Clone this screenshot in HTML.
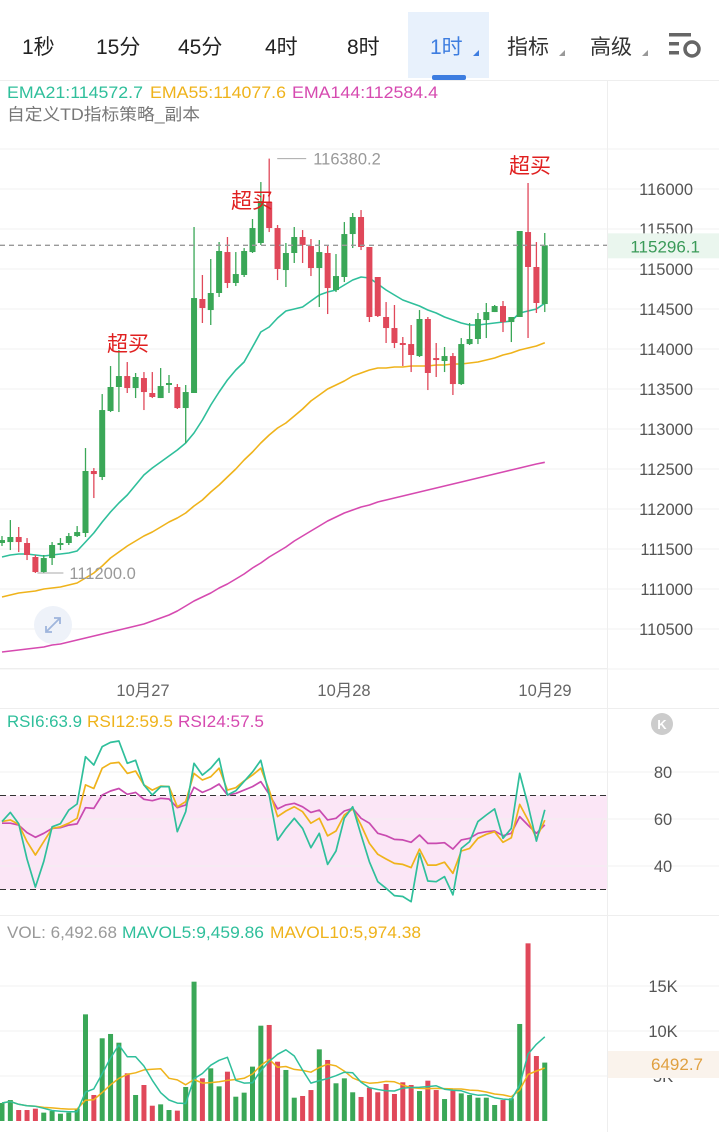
<!DOCTYPE html>
<html><head><meta charset="utf-8">
<style>
html,body{margin:0;padding:0;background:#fff;}
body{width:719px;height:1132px;overflow:hidden;font-family:"Liberation Sans","Noto Sans CJK SC",sans-serif;}
svg{display:block;}
text{font-family:"Liberation Sans","Noto Sans CJK SC",sans-serif;}
</style></head>
<body>
<svg id="chart" width="719" height="1132" viewBox="0 0 719 1132" xmlns="http://www.w3.org/2000/svg">
  <g font-size="21" fill="#222">
    <rect x="408" y="12" width="81" height="66" fill="#e8f1fc"/>
    <rect x="432" y="75" width="34" height="5" rx="2" fill="#3d7de0"/>
    <text x="22" y="54">1秒</text>
    <text x="96" y="54">15分</text>
    <text x="178" y="54">45分</text>
    <text x="265" y="54">4时</text>
    <text x="347" y="54">8时</text>
    <text x="430" y="54" fill="#3d7de0">1时</text>
    <path d="M473 56 L479 50 L479 56 Z" fill="#3d7de0"/>
    <text x="507" y="54" fill="#333">指标</text>
    <path d="M559 56 L565 50 L565 56 Z" fill="#999"/>
    <text x="590" y="54" fill="#333">高级</text>
    <path d="M642 56 L648 50 L648 56 Z" fill="#999"/>
    <g fill="#666">
      <rect x="669" y="33" width="22" height="3.5"/>
      <rect x="669" y="42" width="10" height="3.5"/>
      <rect x="669" y="51" width="10" height="3.5"/>
      <circle cx="692" cy="49" r="7" fill="none" stroke="#666" stroke-width="3.5"/>
    </g>
  </g>
  <line x1="0" y1="80.5" x2="719" y2="80.5" stroke="#eee"/>
  <line x1="607.5" y1="80" x2="607.5" y2="1132" stroke="#eee"/>

  <g font-size="16.5">
    <text x="7" y="98" fill="#2fbf9b" textLength="136" lengthAdjust="spacingAndGlyphs">EMA21:114572.7</text>
    <text x="150" y="98" fill="#efb31b" textLength="136" lengthAdjust="spacingAndGlyphs">EMA55:114077.6</text>
    <text x="292" y="98" fill="#d64ab0" textLength="146" lengthAdjust="spacingAndGlyphs">EMA144:112584.4</text>
    <text x="7" y="120" fill="#777" textLength="193" lengthAdjust="spacingAndGlyphs">自定义TD指标策略_副本</text>
  </g>

  <g id="mainGrid"></g>
  <g id="mainAxis" font-size="16.5" fill="#555"></g>
  <g id="emaLines"></g>
  <g id="candles"></g>
  <g id="annot"></g>

  <line x1="0" y1="668.5" x2="607" y2="668.5" stroke="#eee"/>
  <g font-size="16.5" fill="#666">
    <text x="143" y="696" text-anchor="middle">10月27</text>
    <text x="344" y="696" text-anchor="middle">10月28</text>
    <text x="545" y="696" text-anchor="middle">10月29</text>
  </g>
  <line x1="0" y1="708.5" x2="719" y2="708.5" stroke="#eee"/>

  <g id="rsiPanel"></g>
  <g font-size="16.5">
    <text x="7" y="727" fill="#2fbf9b" textLength="75" lengthAdjust="spacingAndGlyphs">RSI6:63.9</text>
    <text x="87" y="727" fill="#efb31b" textLength="86" lengthAdjust="spacingAndGlyphs">RSI12:59.5</text>
    <text x="178" y="727" fill="#d64ab0" textLength="86" lengthAdjust="spacingAndGlyphs">RSI24:57.5</text>
  </g>
  <g>
    <circle cx="662" cy="724" r="11" fill="#ccc"/>
    <text x="662" y="729" font-size="13" fill="#fff" text-anchor="middle" font-weight="bold">K</text>
  </g>
  <line x1="0" y1="915.5" x2="719" y2="915.5" stroke="#eee"/>

  <g id="volPanel"></g>
  <g font-size="16.5">
    <text x="7" y="938" fill="#999" textLength="110" lengthAdjust="spacingAndGlyphs">VOL: 6,492.68</text>
    <text x="122" y="938" fill="#2fbf9b" textLength="142" lengthAdjust="spacingAndGlyphs">MAVOL5:9,459.86</text>
    <text x="270" y="938" fill="#efb31b" textLength="151" lengthAdjust="spacingAndGlyphs">MAVOL10:5,974.38</text>
  </g>
</svg>
<script>
const opens  = [111575,111587,111650,111575,111400,111212,111387,111550,111575,111662,111700,112475,112400,113225,113525,113662,113512,113637,113450,113387,113550,113525,113262,113450,114625,114487,114700,115212,114825,114925,115212,115325,115837,115512,114987,115200,115400,115287,115012,115200,114737,114900,115437,115650,115275,114900,114400,114262,114075,114062,113912,114375,113887,113850,113912,113562,114062,114125,114362,114462,114537,114337,114400,115462,115025,114562];
const highs  = [111662,111862,111775,111637,111425,111425,111587,111637,111700,111787,112762,112512,113437,113787,113987,113837,113700,113712,113712,113762,113675,113562,113550,115525,114925,115125,115337,115400,115212,115262,115625,116087,116380,115550,115325,115525,115487,115375,115362,115300,115187,115587,115700,115737,115275,114900,114587,114550,114150,114300,114487,114400,114075,114025,113950,114137,114325,114450,114575,114550,114600,114400,115475,116075,115337,115450];
const lows   = [111537,111487,111462,111362,111200,111200,111300,111487,111550,111650,111650,112137,112362,113212,113212,113450,113387,113237,113387,113387,113450,113250,112825,113450,114325,114300,114650,114762,114787,114900,115200,115300,115462,114862,114775,115075,115075,114912,114525,114437,114712,114837,115262,115237,114337,114400,114075,114012,113787,113712,113900,113487,113650,113712,113425,113550,114050,114062,114137,114462,114212,114087,114400,114137,114450,114462];
const closes = [111612,111650,111587,111425,111212,111387,111550,111575,111662,111712,112475,112437,113237,113525,113662,113512,113650,113462,113400,113537,113575,113262,113462,114637,114512,114700,115225,114825,114937,115225,115512,115850,115512,115000,115200,115400,115300,115012,115212,114762,114912,115437,115650,115275,114400,114412,114262,114075,114050,113925,114375,113700,113862,113912,113562,114062,114125,114375,114462,114537,114337,114400,115475,115025,114575,115296];
const ema21  = [111400,111425,111437,111437,111425,111412,111425,111437,111450,111475,111587,111700,111837,111962,112075,112175,112300,112425,112512,112587,112662,112737,112825,112950,113112,113300,113462,113612,113737,113837,114025,114212,114275,114387,114475,114500,114525,114600,114675,114712,114737,114800,114862,114900,114887,114812,114737,114675,114612,114575,114537,114487,114450,114400,114362,114325,114300,114300,114312,114325,114337,114350,114450,114475,114500,114573];
const ema55  = [110900,110925,110950,110962,110975,111000,111012,111025,111050,111075,111137,111200,111287,111387,111462,111537,111600,111662,111712,111775,111837,111887,111950,112037,112112,112212,112300,112400,112500,112612,112712,112825,112925,113012,113075,113162,113250,113350,113425,113500,113550,113600,113662,113700,113737,113762,113762,113775,113775,113787,113787,113787,113800,113800,113812,113812,113825,113837,113862,113887,113925,113950,113987,114012,114037,114078];
const ema144 = [110212,110225,110237,110250,110262,110275,110300,110312,110337,110362,110387,110412,110437,110462,110487,110512,110537,110562,110600,110637,110675,110725,110787,110850,110900,110950,111012,111062,111125,111187,111262,111325,111400,111462,111525,111600,111662,111725,111787,111850,111900,111950,111987,112025,112050,112087,112112,112137,112162,112187,112212,112237,112262,112287,112312,112337,112362,112387,112412,112437,112462,112487,112512,112537,112562,112584];
const priceTicks = [110500,111000,111500,112000,112500,113000,113500,114000,114500,115000,115500,116000];
const gridLevels = [110000,110500,111000,111500,112000,112500,113000,113500,114000,114500,115000,115500,116000,116500];
const rsi6  = [58.9,62.8,58,43,31,42,56.7,58,63.8,66.4,86.5,83,90.8,92.6,93.2,83.7,85,74.5,70.2,73.8,73.8,54.6,63.1,83.7,78.7,81.6,85.8,70.2,72,76,80,85,70.2,51,56,60.3,56,47.8,53.9,40.7,46.4,60.3,65.2,53.2,41.8,33.3,30.5,27.4,27,24.8,45.4,33.6,33.3,35.5,27.7,47.5,50.4,58.9,61.7,64.3,51.8,56,79.4,66,50.6,63.9];
const rsi12 = [58.9,59.6,57.7,50.4,44.7,50.4,56,56.7,58.2,60.3,74.5,73,81.6,83.7,84.1,79.4,80.4,74.5,72.3,74,73.8,65.2,67.4,79.4,76.6,78,81.6,72.3,73.3,76.2,78.7,81.6,72.3,61,63.4,65.2,63.1,58.2,60.3,52.8,54.9,61.7,64.3,57.4,49.6,45,43,41.1,40.7,39.3,47.2,40.4,40.4,41.6,36.9,46.4,47.5,51.8,53.5,54.6,50.1,52,66.2,59.6,51.8,59.5];
const rsi24 = [58.2,58.2,57.4,54.2,52.2,53.9,56,56.3,57.4,57.9,64.8,64.5,70.2,71.9,73,70.5,71.3,68.4,67.8,68.8,68.5,64.8,66,73.5,71.3,72.8,74.9,70.2,70.9,72.3,73.8,75.9,70.5,64.3,66,66.7,65.2,62.8,63.8,59.6,60.3,63.4,64.5,60.3,58.2,53.9,52.9,51.3,51.1,50.1,53.2,49.6,49.6,49.9,47.2,51.1,51.8,53.9,54.6,54.9,52.9,53.9,61,57.4,53.9,57.5];
const rsiTicks = [80,60,40];
const rsiBand = [30,70];
const volumes = [2.0,2.33,1.22,1.22,1.37,0.93,1.11,0.81,0.93,1.37,11.85,2.89,9.19,9.67,8.70,5.30,2.89,4.0,1.70,1.85,1.22,1.15,3.78,15.48,4.74,5.85,3.85,5.48,2.70,3.15,6.04,10.59,10.67,6.59,5.67,2.59,2.78,3.44,7.96,6.78,4.19,4.74,3.19,2.67,3.70,3.19,4.11,3.0,4.30,4.0,3.33,4.48,3.44,2.44,3.37,3.07,2.89,2.59,2.59,1.78,2.33,2.52,10.78,19.74,7.22,6.49];
const volTicks = [15,10,5];

const NS='http://www.w3.org/2000/svg';
const X0=2, STEP=8.35;
const xAt=i=>X0+i*STEP;
const yP=p=>189+(116000-p)*0.08;
const yR=v=>819-(v-60)*2.35;
const yV=v=>1121-v*9;
function mk(tag,attrs,parent){const e=document.createElementNS(NS,tag);for(const k in attrs)e.setAttribute(k,attrs[k]);parent.appendChild(e);return e;}
const GREEN='#3aa757', RED='#e0485a';

const grid=document.getElementById('mainGrid');
gridLevels.forEach(p=>{
  const l=mk('line',{x1:0,x2:719,y1:yP(p),y2:yP(p),stroke:'#f0f0f0'},grid);
  
  
});
const ax=document.getElementById('mainAxis');
priceTicks.forEach(p=>{
  const t=mk('text',{x:693,y:yP(p)+6,'text-anchor':'end'},ax);
  t.textContent=String(p);
  
  
});

function line(arr,yf,color,g,name,w){
  const d=arr.map((v,i)=>(i?'L':'M')+xAt(i).toFixed(1)+' '+yf(v).toFixed(1)).join(' ');
  const p=mk('path',{d:d,fill:'none',stroke:color,'stroke-width':w||1.6,'stroke-linejoin':'round'},g);
  
  
  return p;
}
const eg=document.getElementById('emaLines');
line(ema144,yP,'#d64ab0',eg,'ema144-line');
line(ema55,yP,'#efb31b',eg,'ema55-line');
line(ema21,yP,'#2fbf9b',eg,'ema21-line');

const cg=document.getElementById('annot');
const lastY=yP(closes[closes.length-1]);
const dl=mk('line',{x1:0,x2:607,y1:lastY,y2:lastY,stroke:'#999','stroke-dasharray':'5 4','stroke-width':1.3},cg);


const pb=mk('rect',{x:608,y:lastY-12,width:111,height:25,fill:'#eaf6ee'},cg);


const pt=mk('text',{x:700,y:lastY+7,'text-anchor':'end','font-size':17,fill:'#3a9a58'},cg);
pt.textContent=closes[closes.length-1].toFixed(1).replace('115296.0','115296.1');



const cgr=document.getElementById('candles');
for(let i=0;i<opens.length;i++){
  const up=closes[i]>=opens[i];const c=up?GREEN:RED;const x=xAt(i);
  const g=mk('g',{},cgr);
  
  
  mk('line',{x1:x,x2:x,y1:yP(highs[i]),y2:yP(lows[i]),stroke:c,'stroke-width':1.3},g);
  const top=yP(Math.max(opens[i],closes[i])),bot=yP(Math.min(opens[i],closes[i]));
  mk('rect',{x:x-3,y:top,width:6,height:Math.max(1.5,bot-top),fill:c},g);
}

const hiIdx=highs.indexOf(Math.max(...highs)), loIdx=lows.indexOf(Math.min(...lows));
const hm=mk('line',{x1:xAt(hiIdx)+8,x2:xAt(hiIdx)+37,y1:yP(highs[hiIdx]),y2:yP(highs[hiIdx]),stroke:'#aaa'},cg);


const ht=mk('text',{x:xAt(hiIdx)+44,y:yP(highs[hiIdx])+6,'font-size':16.5,fill:'#999'},cg);
ht.textContent=highs[hiIdx].toFixed(1).replace('116380.0','116380.2');


const lm=mk('line',{x1:xAt(loIdx)+2,x2:xAt(loIdx)+28,y1:yP(lows[loIdx]),y2:yP(lows[loIdx]),stroke:'#aaa'},cg);


const lt=mk('text',{x:xAt(loIdx)+34,y:yP(lows[loIdx])+6,'font-size':16.5,fill:'#999'},cg);
lt.textContent=lows[loIdx].toFixed(1);



[[107,351],[231,208],[509,173]].forEach(([x,y])=>{
  const t=mk('text',{x:x,y:y,'font-size':21,fill:'#e02020'},cg);
  t.textContent='超买';
  
  
});
const ex=mk('g',{},cg);


mk('circle',{cx:53,cy:625,r:19,fill:'#eef2f9'},ex);
mk('path',{d:'M46 632 L60 618 M54 618 L60 618 L60 624 M46 626 L46 632 L52 632',stroke:'#9fb5dc','stroke-width':1.8,fill:'none'},ex);

const rg=document.getElementById('rsiPanel');
const band=mk('rect',{x:0,y:yR(rsiBand[1]),width:607,height:yR(rsiBand[0])-yR(rsiBand[1]),fill:'#fbe6f6'},rg);


rsiTicks.forEach(v=>{
  const l=mk('line',{x1:0,x2:719,y1:yR(v),y2:yR(v),stroke:'#f0f0f0'},rg);
  
  
  const t=mk('text',{x:663,y:yR(v)+6,'text-anchor':'middle','font-size':16.5,fill:'#555'},rg);
  t.textContent=String(v);
  
  
});
rsiBand.forEach(v=>{
  const l=mk('line',{x1:0,x2:607,y1:yR(v),y2:yR(v),stroke:'#333','stroke-dasharray':'6 4','stroke-width':1.1},rg);
  
  
});
line(rsi24,yR,'#c94bb0',rg,'rsi24-line',1.7);
line(rsi12,yR,'#efb31b',rg,'rsi12-line',1.7);
line(rsi6,yR,'#2fbf9b',rg,'rsi6-line',1.7);

const vg=document.getElementById('volPanel');
volTicks.forEach(v=>{
  const l=mk('line',{x1:0,x2:719,y1:yV(v),y2:yV(v),stroke:'#f0f0f0'},vg);
  
  
  const t=mk('text',{x:663,y:yV(v)+6,'text-anchor':'middle','font-size':16.5,fill:'#555'},vg);
  t.textContent=v+'K';
  
  
});
for(let i=0;i<volumes.length;i++){
  const up=closes[i]>=opens[i];
  const r=mk('rect',{x:xAt(i)-2.5,y:yV(volumes[i]),width:5,height:yV(0)-yV(volumes[i]),fill:up?GREEN:RED},vg);
  
  
}
function ma(arr,n){return arr.map((v,i)=>{const s=arr.slice(Math.max(0,i-n+1),i+1);return s.reduce((a,b)=>a+b,0)/s.length;});}
line(ma(volumes,10),yV,'#efb31b',vg,'mavol10-line',1.5);
line(ma(volumes,5),yV,'#2fbf9b',vg,'mavol5-line',1.5);
const vb=mk('rect',{x:608,y:1051,width:111,height:27,fill:'#faf3ec'},vg);


const vt=mk('text',{x:677,y:1070,'text-anchor':'middle','font-size':17,fill:'#e0a040'},vg);
vt.textContent='6492.7';


</script>
</body></html>
